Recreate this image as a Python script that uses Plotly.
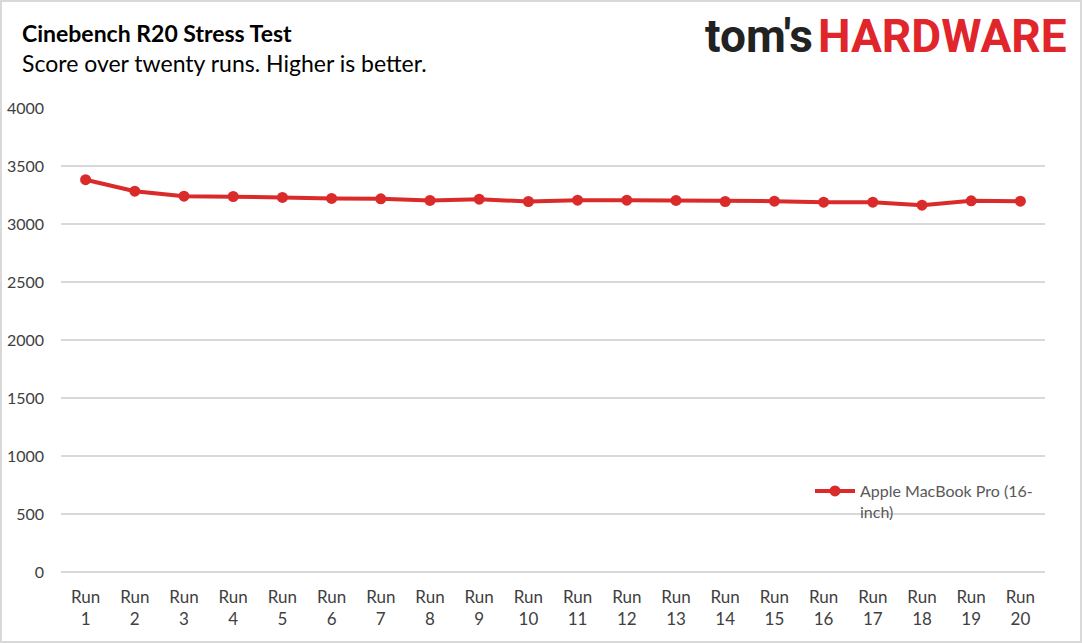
import plotly.graph_objects as go

categories = [f"Run<br>{i}" for i in range(1, 21)]
scores = [3382, 3283, 3240, 3237, 3229, 3220, 3217, 3203, 3214, 3194,
          3205, 3205, 3203, 3194, 3197, 3188, 3188, 3162, 3200, 3197]
series_name = "Apple MacBook Pro (16-<br>inch)"
y_ticks = list(range(0, 4001, 500))

W, H = 1082, 643
L, R, T, B = 61, 37, 108, 71
pw, ph = W - L - R, H - T - B

def px(x):
    return (x - L) / pw

def py(y):
    return (H - B - y) / ph

RED = "#da2a2a"
FONT = "Lato"

fig = go.Figure()
fig.add_trace(go.Scatter(
    x=categories, y=scores, mode="lines+markers", name=series_name,
    line=dict(color=RED, width=4),
    marker=dict(color=RED, size=11),
))

fig.update_layout(
    width=W, height=H,
    margin=dict(l=L, r=R, t=T, b=B, autoexpand=False),
    paper_bgcolor="white", plot_bgcolor="white",
    font=dict(family=FONT, color="#404040", size=16),
    showlegend=True,
    legend=dict(x=px(810), y=py(474), xanchor="left", yanchor="top",
                bgcolor="rgba(0,0,0,0)", font=dict(size=16, color="#595959"),
                valign="top", itemwidth=40),
    xaxis=dict(range=[-0.5, len(categories) - 0.5], showgrid=False, showline=False,
               zeroline=False, tickfont=dict(size=17, color="#404040"), ticks="",
               ticklabelstandoff=13, automargin=False),
    yaxis=dict(range=[0, 4000], tickvals=y_ticks, showgrid=True,
               gridcolor="#d9d9d9", gridwidth=1.5, zeroline=True,
               zerolinecolor="#d9d9d9", zerolinewidth=1.5, showline=False,
               ticks="", ticklabelstandoff=16, automargin=False,
               tickfont=dict(size=16, color="#404040")),
    annotations=[
        dict(text="<b>Cinebench R20 Stress Test</b>", xref="paper", yref="paper",
             x=px(20), y=py(33), xanchor="left", yanchor="middle", showarrow=False,
             font=dict(size=23, color="#000000", family=FONT)),
        dict(text="Score over twenty runs. Higher is better.", xref="paper", yref="paper",
             x=px(20), y=py(63), xanchor="left", yanchor="middle", showarrow=False,
             font=dict(size=23, color="#000000", family=FONT)),
        dict(text="<b>tom's</b>", xref="paper", yref="paper", x=px(815), y=py(36),
             xanchor="right", yanchor="middle", showarrow=False,
             font=dict(size=46, family="Roboto", color="#222222")),
        dict(text="<b>HARDWARE</b>", xref="paper", yref="paper", x=px(1069), y=py(36),
             xanchor="right", yanchor="middle", showarrow=False,
             font=dict(size=46, family="Roboto", color="#e0252b")),
    ],
    shapes=[
        dict(type="rect", xref="paper", yref="paper",
             x0=px(1), x1=px(W - 1), y0=py(H - 1), y1=py(1),
             line=dict(color="#d9d9d9", width=2), fillcolor="rgba(0,0,0,0)", layer="below"),
    ],
)

fig.write_html("out.html", config={"displayModeBar": False},
               post_script="document.body.style.margin='0';")
